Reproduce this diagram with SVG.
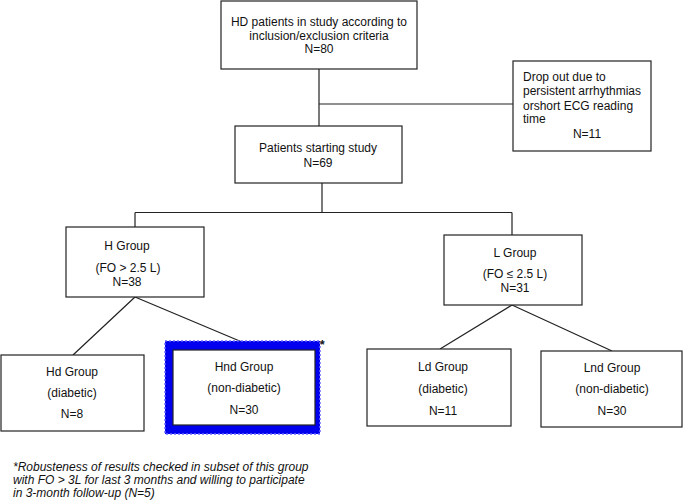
<svg xmlns="http://www.w3.org/2000/svg" width="685" height="503" viewBox="0 0 685 503">
<style>
  .box { fill: #fff; stroke: #222; stroke-width: 1.2; }
  .t { font-family: "Liberation Sans", Arial, sans-serif; font-size: 12px; fill: #111; }
  .c { text-anchor: middle; }
  .conn { stroke: #222; stroke-width: 1.2; fill: none; }
  .note { font-family: "Liberation Sans", Arial, sans-serif; font-size: 12px; font-style: italic; fill: #111; }
</style>
<rect width="685" height="503" fill="#fff"/>
<g id="connectors">
  <path class="conn" d="M319 69 V126 M319 104 H513"/>
  <path class="conn" d="M322 183 V212.5 M135 212.5 H512 M135 212.5 V227 M512 212.5 V235"/>
  <path class="conn" d="M135 297 L73 355 M135 297 L242 342"/>
  <path class="conn" d="M512 305 L440 349 M512 305 L612 351"/>
</g>
<g id="n_top">
  <rect class="box" x="221" y="1" width="196" height="68"/>
  <text class="t c" x="319" y="26">HD patients in study according to</text>
  <text class="t c" x="319" y="39.5">inclusion/exclusion criteria</text>
  <text class="t c" x="319" y="53">N=80</text>
</g>
<g id="n_drop">
  <rect class="box" x="513" y="61" width="138" height="90"/>
  <text class="t" x="523" y="81">Drop out due to</text>
  <text class="t" x="523" y="95">persistent arrhythmias</text>
  <text class="t" x="523" y="109.5">orshort ECG reading</text>
  <text class="t" x="523" y="123">time</text>
  <text class="t c" x="587" y="138">N=11</text>
</g>
<g id="n_start">
  <rect class="box" x="235" y="126" width="167" height="57"/>
  <text class="t c" x="318" y="152">Patients starting study</text>
  <text class="t c" x="318" y="166.5">N=69</text>
</g>
<g id="n_h">
  <rect class="box" x="66" y="227" width="138" height="70"/>
  <text class="t c" x="127" y="250">H Group</text>
  <text class="t c" x="128" y="271.5">(FO &gt; 2.5 L)</text>
  <text class="t c" x="127" y="286">N=38</text>
</g>
<g id="n_l">
  <rect class="box" x="444" y="235" width="138" height="70"/>
  <text class="t c" x="515" y="257">L Group</text>
  <text class="t c" x="515" y="278">(FO ≤ 2.5 L)</text>
  <text class="t c" x="515" y="291.5">N=31</text>
</g>
<g id="n_hd">
  <rect class="box" x="1" y="355" width="143" height="76"/>
  <text class="t c" x="72" y="376">Hd Group</text>
  <text class="t c" x="72" y="397">(diabetic)</text>
  <text class="t c" x="72" y="418">N=8</text>
</g>
<g id="n_hnd">
  <rect x="165" y="341" width="155" height="93" fill="#0000ee" stroke="#6a6aff" stroke-width="1.5" stroke-dasharray="2 2"/>
  <rect class="box" x="173" y="350" width="142" height="75"/>
  <text class="t c" x="244" y="371">Hnd Group</text>
  <text class="t c" x="244" y="392">(non-diabetic)</text>
  <text class="t c" x="244" y="414">N=30</text>
  <text class="t" x="320" y="349" font-weight="bold" font-size="14">*</text>
</g>
<g id="n_ld">
  <rect class="box" x="367" y="349" width="144" height="77"/>
  <text class="t c" x="443" y="371">Ld Group</text>
  <text class="t c" x="443" y="393">(diabetic)</text>
  <text class="t c" x="443" y="415">N=11</text>
</g>
<g id="n_lnd">
  <rect class="box" x="541" y="351" width="141" height="76"/>
  <text class="t c" x="612" y="371.5">Lnd Group</text>
  <text class="t c" x="612" y="393">(non-diabetic)</text>
  <text class="t c" x="612" y="415">N=30</text>
</g>
<g id="footnote">
  <text class="note" x="13" y="471">*Robusteness of results checked in subset of this group</text>
  <text class="note" x="13" y="484">with FO &gt; 3L for last 3 months and willing to participate</text>
  <text class="note" x="13" y="497">in 3-month follow-up (N=5)</text>
</g>
</svg>
